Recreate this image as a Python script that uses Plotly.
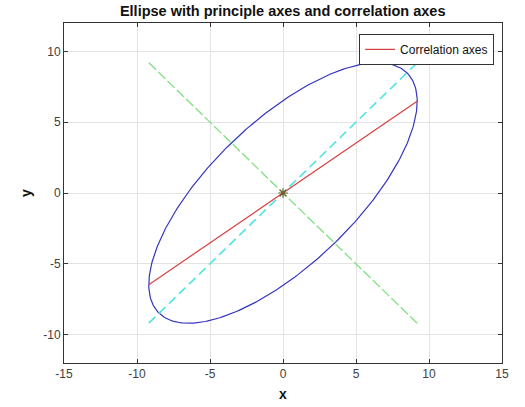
import numpy as np
import plotly.graph_objects as go

# Ellipse parameters
center = [0.0, 0.0]
semi_axes = [12.0, 5.0]          # major, minor
angle_deg = 45.0

# Line endpoints
principal_major_x = [-9.19, 9.19]
principal_major_y = [-9.19, 9.19]
principal_minor_x = [-9.19, 9.19]
principal_minor_y = [9.19, -9.19]
corr_x = [-9.19, 9.19]
corr_y = [-6.47, 6.47]

x_ticks = [-15, -10, -5, 0, 5, 10, 15]
y_ticks = [-10, -5, 0, 5, 10]

t = np.linspace(0, 2 * np.pi, 400)
a, b = semi_axes
th = np.deg2rad(angle_deg)
ex = center[0] + a * np.cos(t) * np.cos(th) - b * np.sin(t) * np.sin(th)
ey = center[1] + a * np.cos(t) * np.sin(th) + b * np.sin(t) * np.cos(th)

FONT = "Liberation Sans, Arial"

fig = go.Figure()
fig.add_trace(go.Scatter(x=ex, y=ey, mode="lines", line=dict(color="#3535c0", width=1.2), showlegend=False))
fig.add_trace(go.Scatter(x=principal_major_x, y=principal_major_y, mode="lines",
                         line=dict(color="#50e4e4", width=1.6, dash="9px,5px"), showlegend=False))
fig.add_trace(go.Scatter(x=principal_minor_x, y=principal_minor_y, mode="lines",
                         line=dict(color="#80e080", width=1.3, dash="10px,3px"), showlegend=False))
fig.add_trace(go.Scatter(x=corr_x, y=corr_y, mode="lines", name="Correlation axes",
                         line=dict(color="#d84040", width=1.2)))
fig.add_trace(go.Scatter(x=[center[0]], y=[center[1]], mode="markers",
                         marker=dict(symbol="asterisk-open", size=8, color="#6b5a2a", line=dict(width=1.2, color="#6b5a2a")),
                         showlegend=False))

axis_common = dict(showgrid=True, gridcolor="#e3e3e3", gridwidth=1, zeroline=False,
                   showline=True, linecolor="#333333", linewidth=1, mirror="ticks",
                   ticks="inside", ticklen=4, tickcolor="#333333", automargin=False,
                   tickfont=dict(family=FONT, size=12, color="#404040"))

fig.update_layout(
    width=525, height=407,
    margin=dict(l=64, r=23, t=23, b=44),
    paper_bgcolor="white", plot_bgcolor="white",
    title=dict(text="<b>Ellipse with principle axes and correlation axes</b>", x=0.5385, xanchor="center",
               y=0.972, yanchor="middle",
               font=dict(family=FONT, size=14.5, color="#111111")),
    xaxis=dict(range=[-15, 15], tickvals=x_ticks, ticktext=[str(v) for v in x_ticks],
               title=dict(text="<b>x</b>", standoff=8, font=dict(family=FONT, size=14, color="#111111")),
               **axis_common),
    yaxis=dict(range=[-12, 12], tickvals=y_ticks, ticktext=[str(v) for v in y_ticks],
               title=dict(text="<b>y</b>", standoff=8, font=dict(family=FONT, size=14, color="#111111")),
               **axis_common),
    legend=dict(x=0.982, y=0.968, xanchor="right", yanchor="top", bgcolor="white",
                bordercolor="#333333", borderwidth=1,
                font=dict(family=FONT, size=12, color="#111111"),
                tracegroupgap=0, itemwidth=30),
    showlegend=True,
)

fig.write_html("out.html")
